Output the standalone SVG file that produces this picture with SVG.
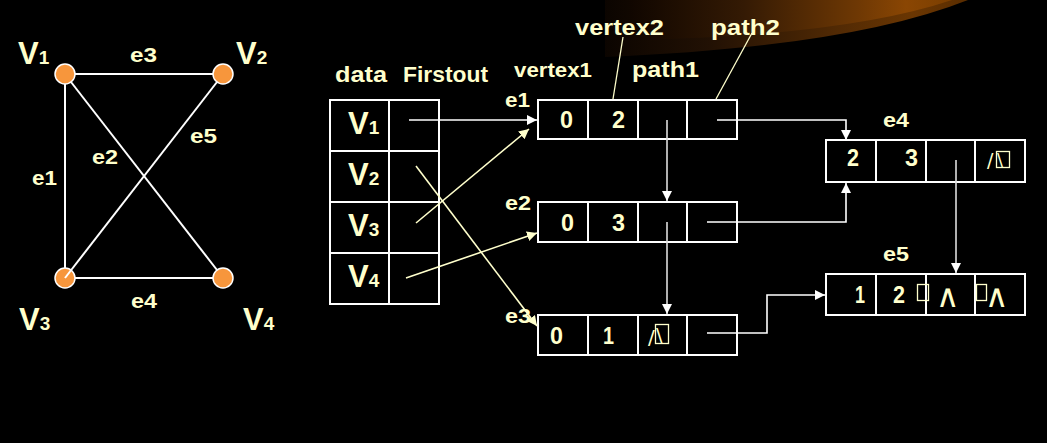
<svg xmlns="http://www.w3.org/2000/svg" width="1047" height="443" viewBox="0 0 1047 443">
<defs>
<style>
.t{font-family:"Liberation Sans",Arial,sans-serif;font-weight:bold;fill:#FFFFCC}
.big{font-size:31px}
.sub{font-size:19px}
.lbl{font-size:21px}
.hd{font-size:22px}
.dg{font-size:23px}
.thin{font-family:"DejaVu Sans","Liberation Sans",sans-serif;font-weight:normal;fill:#FFFFCC}
.box{fill:none;stroke:#FFFFFF;stroke-width:2}
.edge{stroke:#FFFFFF;stroke-width:2;fill:none}
.cw{stroke:#FFFFFF;stroke-width:1.6;fill:none}
.cg{stroke:#DDDDDD;stroke-width:1.6;fill:none}
.cc{stroke:#FFFFCC;stroke-width:1.6;fill:none}
.lead{stroke:#FFFFCC;stroke-width:1.3;fill:none}
.vx{fill:#F7963C;stroke:#FFFFFF;stroke-width:1.5}
.tofu{fill:none;stroke:#FFFFCC;stroke-width:1.3}
</style>
<marker id="aw" markerWidth="10" markerHeight="10" refX="10" refY="5" orient="auto" markerUnits="userSpaceOnUse"><path d="M0,0 L10,5 L0,10 z" fill="#FFFFFF"/></marker>
<marker id="ac" markerWidth="10" markerHeight="10" refX="10" refY="5" orient="auto" markerUnits="userSpaceOnUse"><path d="M0,0 L10,5 L0,10 z" fill="#FFFFCC"/></marker>
<linearGradient id="g1" gradientUnits="userSpaceOnUse" x1="600" y1="0" x2="968" y2="0">
<stop offset="0" stop-color="#0a0400"/>
<stop offset="0.3" stop-color="#221104"/>
<stop offset="0.65" stop-color="#522a04"/>
<stop offset="0.85" stop-color="#6a3602"/>
<stop offset="1" stop-color="#5a2d00"/>
</linearGradient>
<linearGradient id="g2" gradientUnits="userSpaceOnUse" x1="630" y1="0" x2="955" y2="0">
<stop offset="0" stop-color="#100600"/>
<stop offset="0.35" stop-color="#341a04"/>
<stop offset="0.7" stop-color="#6e3804"/>
<stop offset="0.85" stop-color="#8a4603"/>
<stop offset="1" stop-color="#7a3e00"/>
</linearGradient>
</defs>
<rect x="0" y="0" width="1047" height="443" fill="#000000"/>
<g id="backdrop">
<path d="M605,0 L605,57 Q850,47 968,0 Z" fill="url(#g1)"/>
<path d="M630,0 L630,40 Q845,36 952,0 Z" fill="url(#g2)"/>
</g>

<g id="graph">
<g id="graph-edges">
<line class="edge" x1="75" y1="74" x2="213" y2="74"/>
<line class="edge" x1="65" y1="84" x2="65" y2="268"/>
<line class="edge" x1="75" y1="278" x2="213" y2="278"/>
<line class="edge" x1="71" y1="82" x2="217" y2="270"/>
</g>
<g id="gV1"><circle class="vx" cx="65" cy="74" r="10"/><text class="t big" x="18" y="64">V<tspan class="sub">1</tspan></text></g>
<g id="gV2"><circle class="vx" cx="223" cy="74" r="10"/><text class="t big" x="236" y="64">V<tspan class="sub">2</tspan></text></g>
<g id="gV3"><circle class="vx" cx="65" cy="278" r="10"/><text class="t big" x="19" y="330">V<tspan class="sub">3</tspan></text></g>
<g id="gV4"><circle class="vx" cx="223" cy="278" r="10"/><text class="t big" x="243" y="330">V<tspan class="sub">4</tspan></text></g>
<line class="edge" x1="217" y1="82" x2="65" y2="278"/>
<g id="graph-labels">
<text class="t lbl" x="130" y="62" textLength="27" lengthAdjust="spacingAndGlyphs">e3</text>
<text class="t lbl" x="32" y="185" textLength="25" lengthAdjust="spacingAndGlyphs">e1</text>
<text class="t lbl" x="92" y="164" textLength="26" lengthAdjust="spacingAndGlyphs">e2</text>
<text class="t lbl" x="190" y="143" textLength="27" lengthAdjust="spacingAndGlyphs">e5</text>
<text class="t lbl" x="131" y="308" textLength="26" lengthAdjust="spacingAndGlyphs">e4</text>
</g>
</g>

<g id="table">
<text class="t hd" x="335" y="82" textLength="52" lengthAdjust="spacingAndGlyphs">data</text>
<text class="t hd" x="403" y="82" textLength="85" lengthAdjust="spacingAndGlyphs">Firstout</text>
<rect class="box" x="330" y="100" width="109" height="204"/>
<line class="box" x1="389" y1="100" x2="389" y2="304"/>
<line class="box" x1="330" y1="151" x2="439" y2="151"/>
<line class="box" x1="330" y1="202" x2="439" y2="202"/>
<line class="box" x1="330" y1="253" x2="439" y2="253"/>
<text class="t big" x="348" y="134">V<tspan class="sub">1</tspan></text>
<text class="t big" x="348" y="185">V<tspan class="sub">2</tspan></text>
<text class="t big" x="348" y="236">V<tspan class="sub">3</tspan></text>
<text class="t big" x="348" y="287">V<tspan class="sub">4</tspan></text>
</g>

<g id="field-labels">
<text class="t" style="font-size:20px" x="514" y="77" textLength="78" lengthAdjust="spacingAndGlyphs">vertex1</text>
<text class="t hd" x="632" y="77" textLength="67" lengthAdjust="spacingAndGlyphs">path1</text>
<text class="t hd" x="575" y="35" textLength="89" lengthAdjust="spacingAndGlyphs">vertex2</text>
<text class="t hd" x="711" y="35" textLength="69" lengthAdjust="spacingAndGlyphs">path2</text>
<line class="lead" x1="623" y1="37" x2="613" y2="99"/>
<line class="lead" x1="752" y1="33" x2="716" y2="99"/>
</g>

<g id="e1">
<text class="t lbl" x="505" y="107" textLength="25" lengthAdjust="spacingAndGlyphs">e1</text>
<rect class="box" x="538" y="100" width="199" height="39"/>
<line class="box" x1="588" y1="100" x2="588" y2="139"/>
<line class="box" x1="638" y1="100" x2="638" y2="139"/>
<line class="box" x1="687" y1="100" x2="687" y2="139"/>
<text class="t dg" x="560" y="128" textLength="13" lengthAdjust="spacingAndGlyphs">0</text>
<text class="t dg" x="612" y="128" textLength="13" lengthAdjust="spacingAndGlyphs">2</text>
</g>

<g id="e2">
<text class="t lbl" x="505" y="210" textLength="26" lengthAdjust="spacingAndGlyphs">e2</text>
<rect class="box" x="538" y="202" width="199" height="40"/>
<line class="box" x1="588" y1="202" x2="588" y2="242"/>
<line class="box" x1="638" y1="202" x2="638" y2="242"/>
<line class="box" x1="687" y1="202" x2="687" y2="242"/>
<text class="t dg" x="561" y="231" textLength="13" lengthAdjust="spacingAndGlyphs">0</text>
<text class="t dg" x="612" y="231" textLength="13" lengthAdjust="spacingAndGlyphs">3</text>
</g>

<g id="e3">
<text class="t lbl" x="505" y="323" textLength="26" lengthAdjust="spacingAndGlyphs">e3</text>
<rect class="box" x="538" y="315" width="199" height="40"/>
<line class="box" x1="588" y1="315" x2="588" y2="355"/>
<line class="box" x1="638" y1="315" x2="638" y2="355"/>
<line class="box" x1="687" y1="315" x2="687" y2="355"/>
<text class="t dg" x="550" y="344" textLength="13" lengthAdjust="spacingAndGlyphs">0</text>
<text class="t dg" x="603" y="344" textLength="11" lengthAdjust="spacingAndGlyphs">1</text>
<text class="thin" style="font-size:20px" x="648" y="344">/</text>
<rect class="tofu" x="655.5" y="324.5" width="13" height="19"/>
<text class="thin" style="font-size:20px" x="656" y="342">\</text>
</g>

<g id="e4">
<text class="t lbl" x="883" y="127" textLength="26" lengthAdjust="spacingAndGlyphs">e4</text>
<rect class="box" x="826" y="140" width="199" height="42"/>
<line class="box" x1="876" y1="140" x2="876" y2="182"/>
<line class="box" x1="926" y1="140" x2="926" y2="182"/>
<line class="box" x1="975" y1="140" x2="975" y2="182"/>
<text class="t dg" x="847" y="166" textLength="12" lengthAdjust="spacingAndGlyphs">2</text>
<text class="t dg" x="905" y="166" textLength="13" lengthAdjust="spacingAndGlyphs">3</text>
<text class="thin" style="font-size:19px" x="987" y="167">/</text>
<rect class="tofu" x="996.5" y="151.5" width="13" height="16"/>
<text class="thin" style="font-size:18px" x="997" y="166">\</text>
</g>

<g id="e5">
<text class="t lbl" x="883" y="261" textLength="26" lengthAdjust="spacingAndGlyphs">e5</text>
<rect class="box" x="826" y="274" width="199" height="41"/>
<line class="box" x1="876" y1="274" x2="876" y2="315"/>
<line class="box" x1="926" y1="274" x2="926" y2="315"/>
<line class="box" x1="975" y1="274" x2="975" y2="315"/>
<text class="t dg" x="855" y="303" textLength="10" lengthAdjust="spacingAndGlyphs">1</text>
<text class="t dg" x="893" y="303" textLength="12" lengthAdjust="spacingAndGlyphs">2</text>
<rect class="tofu" x="917.5" y="284.5" width="11" height="16"/>
<text class="thin" style="font-size:20px" transform="translate(936,307) scale(1.6,1.6)" x="0" y="0">∧</text>
<rect class="tofu" x="976.5" y="284.5" width="10" height="16"/>
<text class="thin" style="font-size:20px" transform="translate(985,307) scale(1.6,1.6)" x="0" y="0">∧</text>
</g>

<g id="connectors">
<line class="cw" x1="409" y1="120" x2="537" y2="120" marker-end="url(#aw)"/>
<line class="cc" x1="416" y1="223" x2="529" y2="129" marker-end="url(#ac)"/>
<line class="cc" x1="416" y1="166" x2="537" y2="326" marker-end="url(#ac)"/>
<line class="cc" x1="406" y1="278" x2="537" y2="233" marker-end="url(#ac)"/>
<line class="cg" x1="667" y1="120" x2="667" y2="201" marker-end="url(#aw)"/>
<line class="cg" x1="667" y1="222" x2="667" y2="314" marker-end="url(#aw)"/>
<polyline class="cw" points="717,120 846,120 846,140" marker-end="url(#aw)"/>
<polyline class="cw" points="707,222 846,222 846,183" marker-end="url(#aw)"/>
<line class="cg" x1="956" y1="160" x2="956" y2="273" marker-end="url(#aw)"/>
<polyline class="cw" points="707,333 767,333 767,295 825,295" marker-end="url(#aw)"/>
</g>
</svg>
